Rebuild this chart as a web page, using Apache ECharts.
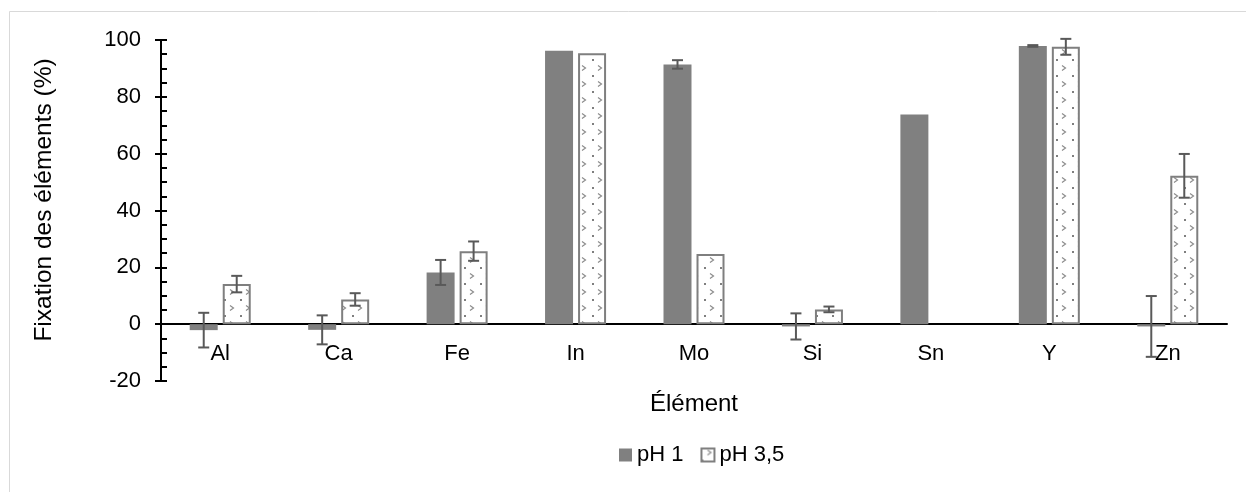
<!DOCTYPE html>
<html>
<head>
<meta charset="utf-8">
<script src="https://cdn.jsdelivr.net/npm/echarts@6/dist/echarts.min.js"></script>
<style>
  html, body { margin: 0; padding: 0; background: #fff; }
  #chart { width: 1246px; height: 492px; }
</style>
</head>
<body>
<div id="chart"></div>
<script>
// ---- data ----
const categories = ['Al', 'Ca', 'Fe', 'In', 'Mo', 'Si', 'Sn', 'Y', 'Zn'];
const seriesNames = ['pH 1', 'pH 3,5'];
const valuesPH1 = [-2.1, -2.0, 18.2, 96.2, 91.4, -0.8, 73.8, 97.9, -0.8];
const errorsPH1 = [6.1, 5.1, 4.4, 0, 1.5, 4.6, 0, 0.3, 10.7];
const valuesPH35 = [14.1, 8.7, 25.7, 95.3, 24.7, 5.2, null, 97.6, 52.2];
const errorsPH35 = [2.9, 2.2, 3.4, 0, 0, 1.0, 0, 2.8, 7.7];
const yTicks = { min: -20, max: 100, step: 20 };

// ---- styles ----
const FONT = 'Liberation Sans, Arial, sans-serif';
const BAR_W = 28;
const BAR_GAP_PX = 5;
const OFFSET = (BAR_W + BAR_GAP_PX) / 2;

function makePattern() {
  const c = document.createElement('canvas');
  c.width = 16; c.height = 16;
  const g = c.getContext('2d');
  g.fillStyle = '#ffffff';
  g.fillRect(0, 0, 16, 16);
  g.strokeStyle = '#8c8c8c';
  g.lineWidth = 1.2;
  g.beginPath();
  g.moveTo(6, 1.5); g.lineTo(9.5, 4); g.lineTo(6, 6.5);
  g.stroke();
  g.fillStyle = '#7f7f7f';
  g.fillRect(0, 11, 2, 2);
  return c;
}
const pattern = { image: makePattern(), repeat: 'repeat' };

function errData(vals, errs) {
  return vals.map((v, i) => [i, v == null ? 0 : v, errs[i] || 0]);
}

function errRender(offset) {
  return function (params, api) {
    const e = api.value(2);
    if (!e) return null;
    const i = api.value(0), v = api.value(1);
    const top = api.coord([i, v + e]);
    const bot = api.coord([i, v - e]);
    const x = top[0] + offset;
    const cap = 5.5;
    const st = { stroke: '#595959', lineWidth: 2 };
    return {
      type: 'group',
      children: [
        { type: 'line', shape: { x1: x, y1: top[1], x2: x, y2: bot[1] }, style: st },
        { type: 'line', shape: { x1: x - cap, y1: top[1], x2: x + cap, y2: top[1] }, style: st },
        { type: 'line', shape: { x1: x - cap, y1: bot[1], x2: x + cap, y2: bot[1] }, style: st }
      ]
    };
  };
}

const chart = echarts.init(document.getElementById('chart'), null, { renderer: 'canvas' });
chart.setOption({
  animation: false,
  backgroundColor: '#ffffff',
  textStyle: { fontFamily: FONT },
  grid: { left: 161, right: 19, top: 40, bottom: 111, containLabel: false },
  graphic: [
    { type: 'rect', shape: { x: 9.5, y: 11.5, width: 1400, height: 700 },
      style: { fill: null, stroke: '#d9d9d9', lineWidth: 1 }, silent: true, z: -1 },
    { type: 'text', x: 44, y: 200, rotation: Math.PI / 2,
      style: { text: 'Fixation des éléments (%)', font: '24.5px ' + FONT, fill: '#000',
               align: 'center', verticalAlign: 'middle' } }
  ],
  legend: {
    left: 619, top: 444, padding: 0,
    itemWidth: 13, itemHeight: 13, itemGap: 17,
    icon: 'rect',
    textStyle: { fontSize: 22, color: '#000', fontFamily: FONT },
    data: seriesNames
  },
  xAxis: {
    type: 'category',
    data: categories,
    name: 'Élément',
    nameLocation: 'middle',
    nameGap: 11,
    nameTextStyle: { fontSize: 24, color: '#000', fontFamily: FONT },
    axisLine: { onZero: true, lineStyle: { color: '#000', width: 2 } },
    axisTick: { show: false },
    axisLabel: { fontSize: 22, color: '#000', margin: -38, fontFamily: FONT }
  },
  yAxis: [
    {
      type: 'value',
      min: yTicks.min, max: yTicks.max, interval: yTicks.step,
      axisLine: { show: true, lineStyle: { color: '#000', width: 2 } },
      axisTick: { show: true, inside: false, length: 6, lineStyle: { color: '#000', width: 2 } },
      axisLabel: { fontSize: 22, color: '#000', margin: 20, fontFamily: FONT },
      splitLine: { show: false }
    },
    {
      type: 'value', position: 'left',
      min: yTicks.min, max: yTicks.max, interval: yTicks.step,
      axisLine: { show: false },
      axisTick: { show: true, inside: true, length: 6, lineStyle: { color: '#000', width: 2 } },
      minorTick: { show: true, splitNumber: 4, length: 6, lineStyle: { color: '#000', width: 2 } },
      axisLabel: { show: false },
      splitLine: { show: false }
    }
  ],
  series: [
    {
      name: seriesNames[0], type: 'bar', data: valuesPH1,
      barWidth: BAR_W, barGap: (BAR_GAP_PX / BAR_W * 100).toFixed(1) + '%',
      itemStyle: { color: '#808080' }
    },
    {
      name: seriesNames[1], type: 'bar', data: valuesPH35,
      barWidth: BAR_W,
      itemStyle: { color: pattern, borderColor: '#7f7f7f', borderWidth: 2 }
    },
    {
      type: 'custom', renderItem: errRender(-OFFSET), data: errData(valuesPH1, errorsPH1),
      z: 5, silent: true, encode: { x: 0, y: 1 }
    },
    {
      type: 'custom', renderItem: errRender(OFFSET), data: errData(valuesPH35, errorsPH35),
      z: 5, silent: true, encode: { x: 0, y: 1 }
    }
  ]
});
</script>
</body>
</html>
